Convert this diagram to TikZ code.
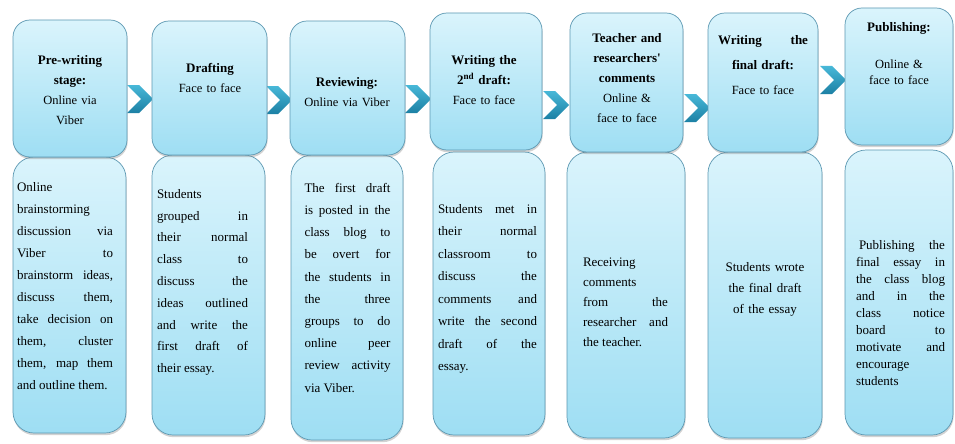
\documentclass[tikz,border=0pt]{standalone}
\usepackage{fontspec}
\setmainfont{Liberation Serif}
\usetikzlibrary{shadows}

\definecolor{boxtop}{RGB}{218,244,252}
\definecolor{boxbot}{RGB}{158,222,243}
\definecolor{boxline}{RGB}{92,152,178}
\definecolor{chevtop}{RGB}{72,184,216}
\definecolor{chevbot}{RGB}{28,128,164}

\newcommand{\hd}[1]{{\fontsize{13}{20}\selectfont\bfseries #1}}

\tikzset{
  stagebox/.style={draw=boxline, line width=.7pt, rounded corners=17pt,
    top color=boxtop, bottom color=boxbot, inner sep=0pt,
    drop shadow={shadow xshift=.6pt, shadow yshift=-2.2pt, opacity=.35}},
  notebox/.style={stagebox, rounded corners=21pt},
  headtext/.style={anchor=north, inner sep=0pt, text width=#1, align=center,
    font=\fontsize{12.5}{20}\selectfont},
  bodytext/.style 2 args={anchor=north, inner sep=0pt, text width=#1, align=justify,
    font=\fontsize{13}{#2}\selectfont,
    execute at begin node={\tolerance=10000\relax\hbadness=10000\relax\hyphenpenalty=10000\relax}},
  chev/.style={top color=chevtop, bottom color=chevbot}
}

\begin{document}
\begin{tikzpicture}[x=1pt,y=-1pt]
  \fill[white] (0,0) rectangle (955,444);
  \useasboundingbox (0,0) rectangle (955,444);

  % chevrons between the stages
  \foreach \cx/\cy in {127/85, 266/86, 405/85, 543/91, 684/94, 820/66}
    \shade[chev] (\cx,\cy) -- ++(12,0) -- ++(14,14) -- ++(-14,14) -- ++(-12,0) -- ++(14,-14) -- cycle;

  % lower boxes
  \node[notebox, minimum width=113pt, minimum height=276pt] (b1) at (69.5,295) {};
  \node[notebox, minimum width=113pt, minimum height=280pt] (b2) at (208.5,295) {};
  \node[notebox, minimum width=112pt, minimum height=285pt] (b3) at (347,297.5) {};
  \node[notebox, minimum width=112pt, minimum height=283pt] (b4) at (489,293.5) {};
  \node[notebox, minimum width=118pt, minimum height=286pt] (b5) at (626,295) {};
  \node[notebox, minimum width=114pt, minimum height=286pt] (b6) at (765,295) {};
  \node[notebox, minimum width=108pt, minimum height=285pt] (b7) at (899,292.5) {};

  % stage boxes
  \node[stagebox, minimum width=114pt, minimum height=137pt] (s1) at (70,88.5) {};
  \node[stagebox, minimum width=115pt, minimum height=134pt] (s2) at (209.5,88) {};
  \node[stagebox, minimum width=115pt, minimum height=134pt] (s3) at (347.5,88) {};
  \node[stagebox, minimum width=112pt, minimum height=137pt] (s4) at (486,81.5) {};
  \node[stagebox, minimum width=113pt, minimum height=139pt] (s5) at (626.5,82.5) {};
  \node[stagebox, minimum width=110pt, minimum height=139pt] (s6) at (763,82.5) {};
  \node[stagebox, minimum width=108pt, minimum height=137pt] (s7) at (899,76.5) {};

  % stage titles
  \node[headtext=108pt] (l1) at (70,55) {\hd{Pre-writing}\\ \hd{stage:}\\ Online via\\ Viber};
  \node[headtext=108pt] (l2) at (210,63) {\hd{Drafting}\\ Face to face};
  \node[headtext=108pt] (l3) at (347,77) {\hd{Reviewing:}\\ Online via Viber};
  \node[headtext=108pt] (l4) at (484,55) {\hd{Writing the}\\ \hd{2\textsuperscript{nd} draft:}\\ Face to face};
  \node[headtext=108pt] (l5) at (627,33) {\hd{Teacher and}\\ \hd{researchers\textquotesingle}\\ \hd{comments}\\ Online \&\\ face to face};
  \node[headtext=90pt] (l6) at (763,35) {\hd{Writing\hfill the}\\[5pt] \hd{final draft:\hfill}\\[5pt] Face to face};
  \node[headtext=104pt] (l7) at (899,22) {\hd{Publishing:}\\[17pt] Online \&\\[-4pt] face to face};

  % descriptions
  \node[bodytext={96pt}{22pt}] (t1) at (65,182.5) {Online\linebreak brainstorming\linebreak discussion via\linebreak Viber to\linebreak brainstorm ideas,\linebreak discuss them,\linebreak take decision on\linebreak them, cluster\linebreak them, map them\linebreak and outline them.};
  \node[bodytext={91pt}{21.8pt}] (t2) at (202.5,189) {Students\linebreak grouped in\linebreak their normal\linebreak class to\linebreak discuss the\linebreak ideas outlined\linebreak and write the\linebreak first draft of\linebreak their essay.};
  \node[bodytext={86pt}{22.2pt}] (t3) at (347.5,183) {The first draft\linebreak is posted in the\linebreak class blog to\linebreak be overt for\linebreak the students in\linebreak the three\linebreak groups to do\linebreak online peer\linebreak review activity\linebreak via Viber.};
  \node[bodytext={99pt}{22.5pt}] (t4) at (487.5,204) {Students met in\linebreak their normal\linebreak classroom to\linebreak discuss the\linebreak comments and\linebreak write the second\linebreak draft of the\linebreak essay.};
  \node[bodytext={85pt}{20pt}] (t5) at (625.5,258) {Receiving\linebreak comments\linebreak from the\linebreak researcher and\linebreak the teacher.};
  \node[bodytext={100pt}{21pt}, align=center] (t6) at (765,262) {Students wrote\\ the final draft\\ of the essay};
  \node[bodytext={89pt}{17pt}] (t7) at (900.5,240) {\hspace*{3pt}Publishing the\linebreak final essay in\linebreak the class blog\linebreak and in the\linebreak class notice\linebreak board to\linebreak motivate and\linebreak encourage\linebreak students};
\end{tikzpicture}
\end{document}
